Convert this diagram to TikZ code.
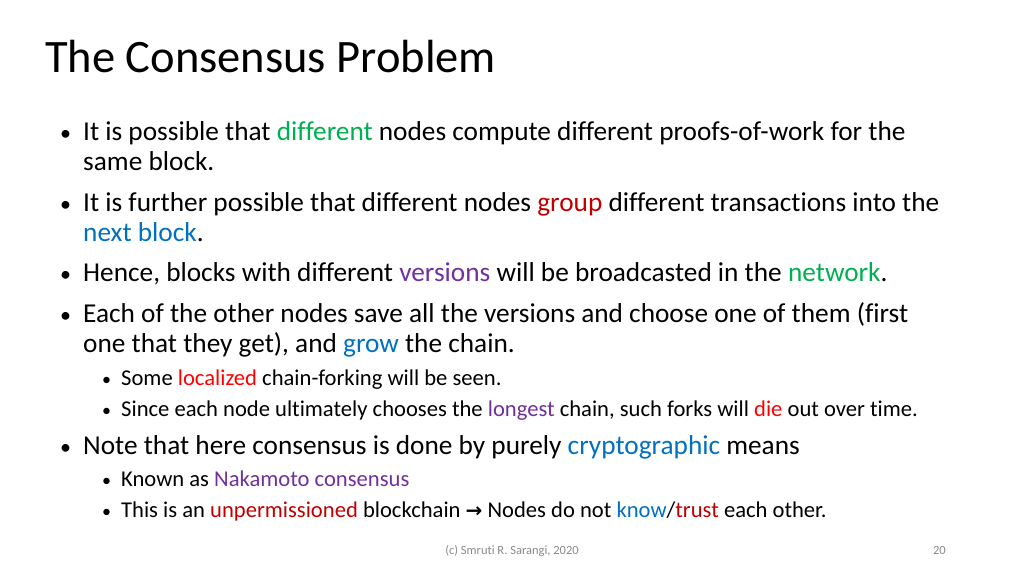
\documentclass[tikz,border=0pt]{standalone}
\usepackage{fontspec}
\setmainfont[RawFeature=-liga]{Carlito}
\newfontfamily\symfont{DejaVu Sans}
\definecolor{cgreen}{RGB}{0,176,80}
\definecolor{cred}{RGB}{192,0,0}
\definecolor{cblue}{RGB}{0,112,192}
\definecolor{cpurple}{RGB}{112,48,160}
\definecolor{bred}{RGB}{255,0,0}
\definecolor{foot}{RGB}{137,137,137}
\begin{document}
\begin{tikzpicture}[x=1pt,y=-1pt,
  txt/.style={anchor=base west,inner sep=0pt,font=\fontsize{27.3}{30}\selectfont},
  sub/.style={anchor=base west,inner sep=0pt,font=\fontsize{22.6}{25}\selectfont},
  bul/.style={anchor=base west,inner sep=0pt,font=\fontsize{22}{28}\selectfont},
  sbul/.style={anchor=base west,inner sep=0pt,font=\fontsize{18}{23}\selectfont}]
\useasboundingbox (0,0) rectangle (1024,576);
\node[anchor=base west,inner sep=0pt,font=\fontsize{46.5}{50}\selectfont] (title) at (45,72) {The Consensus Problem};
% bullets
\node[bul] (b1) at (60,140) {•};
\node[txt] (l1) at (83,140) {It is possible that \textcolor{cgreen}{different} nodes compute different proofs-of-work for the};
\node[txt] (l2) at (83,170) {same block.};
\node[bul] (b2) at (60,211) {•};
\node[txt] (l3) at (83,211) {It is further possible that different nodes \textcolor{cred}{group} different transactions into the};
\node[txt] (l4) at (83,241) {\textcolor{cblue}{next block}.};
\node[bul] (b3) at (60,281) {•};
\node[txt] (l5) at (83,281) {Hence, blocks with different \textcolor{cpurple}{versions} will be broadcasted in the \textcolor{cgreen}{network}.};
\node[bul] (b4) at (60,322) {•};
\node[txt] (l6) at (83,322) {Each of the other nodes save all the versions and choose one of them (first};
\node[txt] (l7) at (83,352) {one that they get), and \textcolor{cblue}{grow} the chain.};
\node[sbul] (s1) at (102,385) {•};
\node[sub] (l8) at (121,385) {Some \textcolor{bred}{localized} chain-forking will be seen.};
\node[sbul] (s2) at (102,416) {•};
\node[sub] (l9) at (121,416) {Since each node ultimately chooses the \textcolor{cpurple}{longest} chain, such forks will \textcolor{bred}{die} out over time.};
\node[bul] (b5) at (60,454) {•};
\node[txt] (l10) at (83,454) {Note that here consensus is done by purely \textcolor{cblue}{cryptographic} means};
\node[sbul] (s3) at (102,486) {•};
\node[sub] (l11) at (121,486) {Known as \textcolor{cpurple}{Nakamoto consensus}};
\node[sbul] (s4) at (102,517) {•};
\node[sub] (l12) at (121,517) {This is an \textcolor{cred}{unpermissioned} blockchain {\symfont\fontsize{20}{22}\selectfont\bfseries →} Nodes do not \textcolor{cblue}{know}/\textcolor{cred}{trust} each other.};
\node[anchor=base,inner sep=0pt,font=\fontsize{12.5}{14}\selectfont,text=foot] (f1) at (512,554) {(c) Smruti R. Sarangi, 2020};
\node[anchor=base east,inner sep=0pt,font=\fontsize{12.5}{14}\selectfont,text=foot] (f2) at (946,554) {20};
\end{tikzpicture}
\end{document}
